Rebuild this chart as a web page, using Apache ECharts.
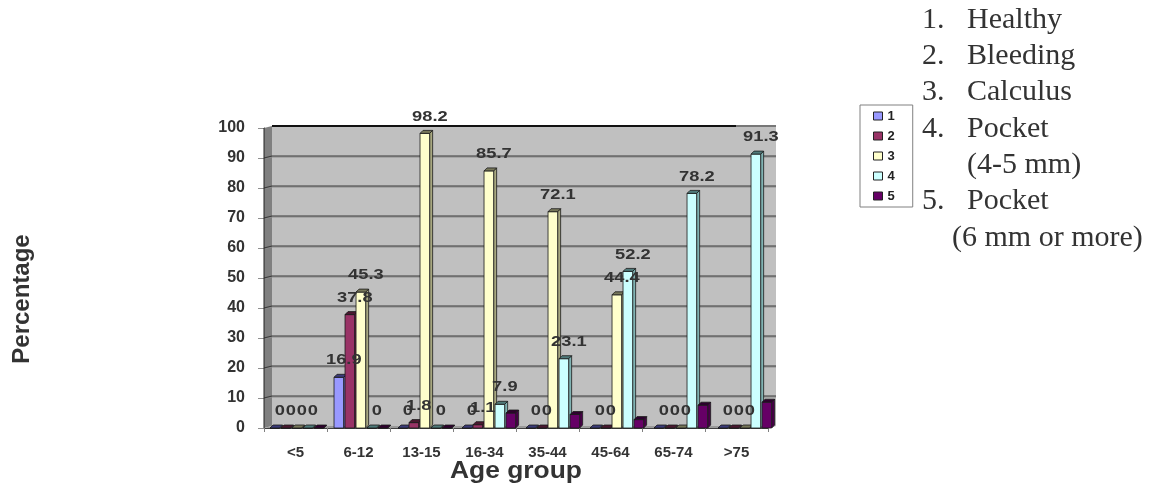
<!DOCTYPE html>
<html><head><meta charset="utf-8">
<script src="https://cdn.jsdelivr.net/npm/echarts@6.0.0/dist/echarts.min.js"></script>
<style>html,body{margin:0;padding:0;background:#fff}#c{width:1165px;height:488px}</style>
</head><body><div id="c"></div>
<script>
// ---- data ----
const categories = ['<5', '6-12', '13-15', '16-34', '35-44', '45-64', '65-74', '>75'];
const seriesNames = ['1', '2', '3', '4', '5'];
const healthy  = [0, 16.9, 0, 0, 0, 0, 0, 0];
const bleeding = [0, 37.8, 1.8, 1.1, 0, 0, 0, 0];
const calculus = [0, 45.3, 98.2, 85.7, 72.1, 44.4, 0, 0];
const pocket45 = [0, 0, 0, 7.9, 23.1, 52.2, 78.2, 91.3];
const pocket6  = [0, 0, 0, 5.0, 4.5, 2.8, 7.6, 8.6];
const labelled = [true, true, true, true, false];
const listNumbers = ['1.', '2.', '3.', '4.', '5.'];
const listNames = ['Healthy', 'Bleeding', 'Calculus', 'Pocket', 'Pocket'];
const listSubs = ['', '', '', '(4-5 mm)', '(6 mm or more)'];
const yTitle = 'Percentage';
const xTitle = 'Age group';
const yMin = 0, yMax = 100, yInterval = 10;

const allValues = [healthy, bleeding, calculus, pocket45, pocket6];
const faces = [
  { front: '#9999ff', side: '#6a6ab8', top: '#3b3b78' },
  { front: '#993366', side: '#6b2447', top: '#4a1830' },
  { front: '#ffffcc', side: '#a8a880', top: '#77775a' },
  { front: '#ccffff', side: '#80b3b3', top: '#4f7a7a' },
  { front: '#660066', side: '#480048', top: '#2e002e' }
];
const SANS = '"Liberation Sans", Arial, sans-serif';
const SERIF = '"Liberation Serif", "Times New Roman", serif';
const DX = 8, DY = 2; // wall depth

function barGeom(api, i) {
  const k = api.value(0), v = api.value(1);
  const t = api.coord([k, v]), b0 = api.coord([k, 0]);
  const cw = api.size([1, 0])[0];
  const fw = cw * 0.15, step = cw * 0.172;
  const x0 = b0[0] - cw / 2 + cw * 0.094 + i * step;
  return { v: v, x0: x0, fw: fw, ty: t[1], by: b0[1] };
}

function wallSeries() {
  return {
    type: 'custom', silent: true, xAxisIndex: 0, yAxisIndex: 0, z: 1,
    data: [[0, 0]],
    renderItem: function (params, api) {
      const cs = params.coordSys;
      const x = cs.x, y = cs.y, w = cs.width, h = cs.height;
      const b = y + h;
      const kids = [];
      kids.push({ type: 'rect', shape: { x: x + DX, y: y - DY, width: w, height: h },
        style: { fill: '#c0c0c0' } });
      kids.push({ type: 'polygon', shape: { points: [[x, y], [x + DX, y - DY], [x + DX, b - DY], [x, b]] },
        style: { fill: '#808080' } });
      kids.push({ type: 'polygon', shape: { points: [[x, b], [x + DX, b - DY], [x + w + DX, b - DY], [x + w, b]] },
        style: { fill: '#9a9a9a' } });
      for (let v = yMin + yInterval; v <= yMax; v += yInterval) {
        const yy = api.coord([0, v])[1];
        if (v === yMax) {
          kids.push({ type: 'polyline', shape: { points: [[x + DX, yy - DY], [x + w + DX - 40, yy - DY]] },
            style: { stroke: '#111', lineWidth: 2, fill: null } });
          kids.push({ type: 'polyline', shape: { points: [[x + w + DX - 40, yy - DY], [x + w + DX, yy - DY]] },
            style: { stroke: '#777', lineWidth: 2, fill: null } });
        } else {
          kids.push({ type: 'polyline', shape: { points: [[x, yy + 1], [x + DX, yy - DY + 1], [x + w + DX, yy - DY + 1]] },
            style: { stroke: '#8c8c8c', lineWidth: 1, fill: null } });
          kids.push({ type: 'polyline', shape: { points: [[x, yy], [x + DX, yy - DY], [x + w + DX, yy - DY]] },
            style: { stroke: '#3a3a3a', lineWidth: 1.2, fill: null } });
        }
      }
      kids.push({ type: 'line', shape: { x1: x, y1: y, x2: x, y2: b }, style: { stroke: '#222', lineWidth: 1 } });
      return { type: 'group', children: kids };
    }
  };
}

function barSeries(i) {
  const f = faces[i];
  return {
    type: 'custom', name: seriesNames[i], xAxisIndex: 1, yAxisIndex: 1, z: 3 + i,
    itemStyle: { color: f.front },
    data: allValues[i].map((v, k) => [k, v]),
    encode: { x: 0, y: 1 },
    renderItem: function (params, api) {
      const g = barGeom(api, i);
      const dx = 3, dy = 3, x0 = g.x0, fw = g.fw, ty = g.ty, by = g.by;
      const st = { stroke: '#1a1a1a', lineWidth: 0.8 };
      return { type: 'group', children: [
        { type: 'polygon', shape: { points: [[x0 + fw, ty], [x0 + fw + dx, ty - dy], [x0 + fw + dx, by - dy], [x0 + fw, by]] },
          style: Object.assign({ fill: f.side }, st) },
        { type: 'rect', shape: { x: x0, y: ty, width: fw, height: by - ty },
          style: Object.assign({ fill: f.front }, st) },
        { type: 'polygon', shape: { points: [[x0, ty], [x0 + dx, ty - dy], [x0 + fw + dx, ty - dy], [x0 + fw, ty]] },
          style: Object.assign({ fill: f.top }, st) }
      ] };
    }
  };
}

function labelSeries(i) {
  return {
    type: 'custom', name: 'label' + seriesNames[i], xAxisIndex: 1, yAxisIndex: 1, z: 20, silent: true,
    data: allValues[i].map((v, k) => [k, v]),
    encode: { x: 0, y: 1 },
    renderItem: function (params, api) {
      const g = barGeom(api, i);
      return { type: 'text', x: g.x0 + g.fw / 2 + 5, y: g.ty - 17, scaleX: 1.22,
        style: { text: String(g.v), fill: '#333', font: 'bold 15px ' + SANS, align: 'center', verticalAlign: 'middle' } };
    }
  };
}

const graphics = [];
const lineStep = 36.3, firstMid = 22;
let row = 0;
for (let i = 0; i < listNumbers.length; i++) {
  const yy = firstMid + row * lineStep;
  graphics.push({ type: 'text', left: 922, top: yy - 17, style: { text: listNumbers[i], font: '30px ' + SERIF, fill: '#333' } });
  graphics.push({ type: 'text', left: 967, top: yy - 17, style: { text: listNames[i], font: '30px ' + SERIF, fill: '#333' } });
  row++;
  if (listSubs[i]) {
    const y2 = firstMid + row * lineStep;
    const lx = i === 4 ? 952 : 967;
    graphics.push({ type: 'text', left: lx, top: y2 - 17, style: { text: listSubs[i], font: '30px ' + SERIF, fill: '#333' } });
    row++;
  }
}
graphics.push({ type: 'text', x: 22, y: 299, rotation: Math.PI / 2,
  style: { text: yTitle, font: 'bold 24px ' + SANS, fill: '#333', align: 'center', verticalAlign: 'middle' } });
graphics.push({ type: 'text', x: 516, y: 471, scaleX: 1.1,
  style: { text: xTitle, font: 'bold 24px ' + SANS, fill: '#333', align: 'center', verticalAlign: 'middle' } });

const series = [wallSeries()];
seriesNames.forEach((n, i) => series.push(barSeries(i)));
seriesNames.forEach((n, i) => { if (labelled[i]) series.push(labelSeries(i)); });

const chart = echarts.init(document.getElementById('c'), null, { renderer: 'canvas' });
chart.setOption({
  backgroundColor: '#ffffff',
  animation: false,
  textStyle: { fontFamily: SANS },
  grid: [
    { left: 264, top: 128, width: 504, height: 300, outerBoundsMode: 'none' },
    { left: 264, top: 128, width: 512, height: 300, outerBoundsMode: 'none' }
  ],
  legend: {
    data: seriesNames, orient: 'vertical', left: 860, top: 105, icon: 'rect',
    itemWidth: 9, itemHeight: 8, itemGap: 6, padding: [4, 18, 4, 13],
    borderColor: '#808080', borderWidth: 1, selectedMode: false,
    itemStyle: { borderColor: '#222', borderWidth: 1 },
    textStyle: { fontSize: 13, fontWeight: 'bold', color: '#222', fontFamily: SANS, lineHeight: 14 }
  },
  xAxis: [
    { type: 'category', gridIndex: 0, data: categories,
      axisLine: { show: true, lineStyle: { color: '#404040', width: 1 } },
      axisTick: { show: true, length: 4, lineStyle: { color: '#808080' } },
      axisLabel: { margin: 17, fontSize: 15, fontWeight: 'bold', color: '#333', fontFamily: SANS, interval: 0 } },
    { type: 'category', gridIndex: 1, data: categories, show: false }
  ],
  yAxis: [
    { type: 'value', gridIndex: 0, min: yMin, max: yMax, interval: yInterval,
      axisLine: { show: true, lineStyle: { color: '#333' } },
      axisTick: { show: true, length: 6, lineStyle: { color: '#909090' } },
      axisLabel: { margin: 19, fontSize: 16, fontWeight: 'bold', color: '#333', fontFamily: SANS },
      splitLine: { show: false } },
    { type: 'value', gridIndex: 1, min: yMin, max: yMax, interval: yInterval, show: false }
  ],
  graphic: graphics,
  series: series
});
</script>
</body></html>
